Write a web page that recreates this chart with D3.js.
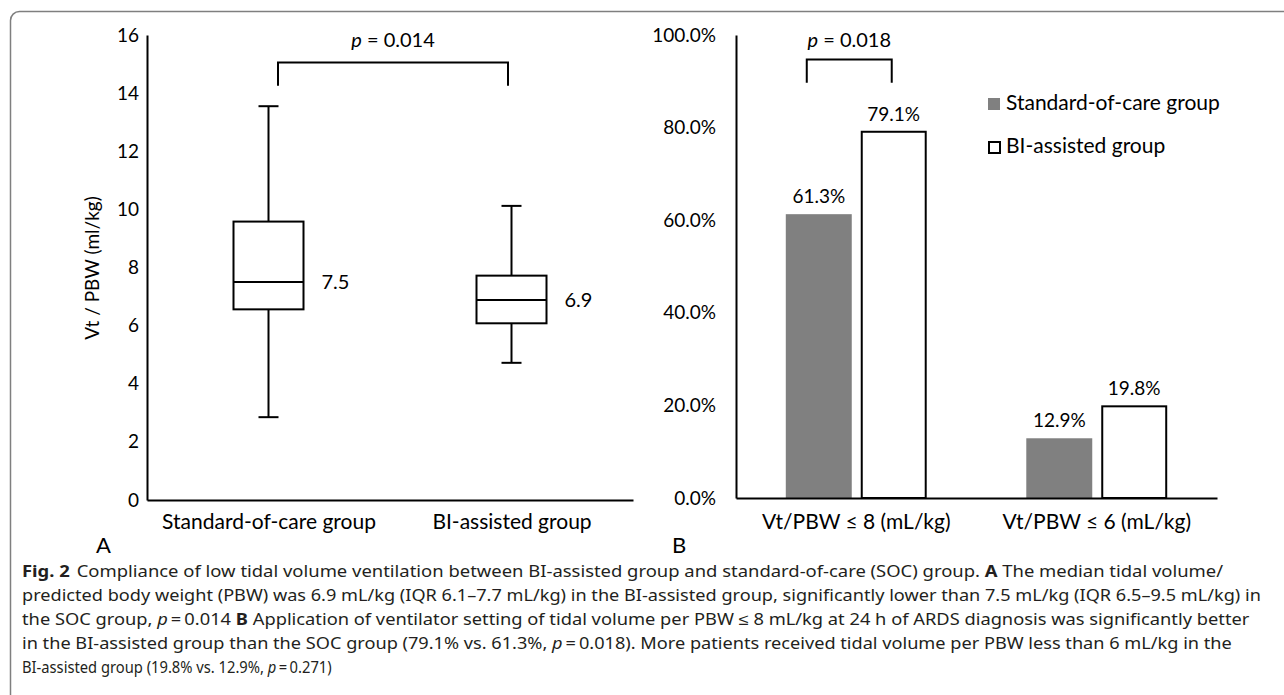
<!DOCTYPE html>
<html>
<head>
<meta charset="utf-8">
<script src="https://cdn.jsdelivr.net/npm/d3@7"></script>
<style>
  body { margin: 0; background: #fff; }
  svg { display: block; }
  .chart text { font-family: Lato, sans-serif; fill: #000; font-size: 19px; }
  .caption text { font-family: 'Noto Sans', sans-serif; fill: #231f20; font-size: 16px; }
</style>
</head>
<body>
<div id="chart"></div>
<script>
const SIZE = Object.freeze({ WIDTH: 1284, HEIGHT: 695 })

// panel A: box plot of Vt / PBW
const boxGroups = ['Standard-of-care group', 'BI-assisted group']
const boxMin = [2.85, 4.72]
const boxQ1 = [6.56, 6.08]
const boxMedian = [7.5, 6.88]
const boxQ3 = [9.58, 7.72]
const boxMax = [13.55, 10.12]
const boxMedianLabels = ['7.5', '6.9']
const boxTicks = [0, 2, 4, 6, 8, 10, 12, 14, 16]

// panel B: grouped bars
const barCategories = ['Vt/PBW ≤ 8 (mL/kg)', 'Vt/PBW ≤ 6 (mL/kg)']
const barSeries = ['Standard-of-care group', 'BI-assisted group']
const socValues = [61.3, 12.9]
const biValues = [79.1, 19.8]
const barTicks = [0, 20, 40, 60, 80, 100]

const pValues = ['0.014', '0.018']

const captionLines = [
  [['b', 'Fig. 2'], ['', 'Compliance of low tidal volume ventilation between BI-assisted group and standard-of-care (SOC) group. ', 6], ['b', 'A'], ['', ' The median tidal volume/']],
  [['', 'predicted body weight (PBW) was 6.9 mL/kg (IQR 6.1–7.7 mL/kg) in the BI-assisted group, significantly lower than 7.5 mL/kg (IQR 6.5–9.5 mL/kg) in']],
  [['', 'the SOC group, '], ['i', 'p'], ['', '\u2009=\u20090.014 '], ['b', 'B'], ['', ' Application of ventilator setting of tidal volume per PBW ≤ 8 mL/kg at 24 h of ARDS diagnosis was significantly better']],
  [['', 'in the BI-assisted group than the SOC group (79.1% vs. 61.3%, '], ['i', 'p'], ['', '\u2009=\u20090.018). More patients received tidal volume per PBW less than 6 mL/kg in the']],
  [['', 'BI-assisted group (19.8% vs. 12.9%, '], ['i', 'p'], ['', '\u2009=\u20090.271)']]
]
const captionWidths = [1195, 1240, 1228, 1210, 310]

const styleAxis = (g) => {
  g.attr('font-family', null).attr('font-size', null)
  g.select('.domain').attr('stroke', '#000').attr('stroke-width', 2)
}

const addPLabel = (g, x, y, value) => {
  const t = g.append('text')
    .attr('x', x)
    .attr('y', y)
    .attr('text-anchor', 'middle')
    .style('font-size', '20px')
  t.append('tspan').style('font-style', 'italic').text('p')
  t.append('tspan').text(` = ${value}`)
}

const buildBoxPanel = (svg) => {
  const g = svg.append('g')
  const y = d3.scaleLinear().domain([0, 16]).range([500, 35])
  const x = d3.scalePoint().domain(boxGroups).range([147, 633]).padding(0.5)
  const boxW = 70
  const capW = 20

  const rows = boxGroups.map((name, i) => ({
    name, min: boxMin[i], q1: boxQ1[i], med: boxMedian[i], q3: boxQ3[i], max: boxMax[i], label: boxMedianLabels[i]
  }))

  const box = g.selectAll('g.box')
    .data(rows)
    .enter()
    .append('g')
    .attr('class', 'box')
    .attr('stroke', '#000')
    .attr('stroke-width', 2)
    .attr('fill', 'none')

  box.append('line')
    .attr('x1', d => x(d.name)).attr('x2', d => x(d.name))
    .attr('y1', d => y(d.max)).attr('y2', d => y(d.q3))
  box.append('line')
    .attr('x1', d => x(d.name)).attr('x2', d => x(d.name))
    .attr('y1', d => y(d.q1)).attr('y2', d => y(d.min))
  box.append('line')
    .attr('x1', d => x(d.name) - capW / 2).attr('x2', d => x(d.name) + capW / 2)
    .attr('y1', d => y(d.max)).attr('y2', d => y(d.max))
  box.append('line')
    .attr('x1', d => x(d.name) - capW / 2).attr('x2', d => x(d.name) + capW / 2)
    .attr('y1', d => y(d.min)).attr('y2', d => y(d.min))
  box.append('rect')
    .attr('x', d => x(d.name) - boxW / 2)
    .attr('width', boxW)
    .attr('y', d => y(d.q3))
    .attr('height', d => y(d.q1) - y(d.q3))
    .attr('fill', '#fff')
  box.append('line')
    .attr('x1', d => x(d.name) - boxW / 2).attr('x2', d => x(d.name) + boxW / 2)
    .attr('y1', d => y(d.med)).attr('y2', d => y(d.med))

  g.selectAll('text.med')
    .data(rows)
    .enter()
    .append('text')
    .attr('class', 'med')
    .attr('x', d => x(d.name) + boxW / 2 + 18)
    .attr('y', d => y(d.med))
    .attr('dy', '0.35em')
    .style('font-size', '20px')
    .text(d => d.label)

  g.append('g')
    .attr('transform', 'translate(147,0)')
    .call(d3.axisLeft(y).tickValues(boxTicks).tickSize(0).tickSizeOuter(0).tickPadding(8))
    .call(styleAxis)

  g.append('g')
    .attr('transform', 'translate(0,500)')
    .call(d3.axisBottom(x).tickSize(0).tickSizeOuter(0).tickPadding(14))
    .call(styleAxis)
    .selectAll('text').style('font-size', '21px')

  g.append('text')
    .attr('transform', 'translate(99,268) rotate(-90)')
    .attr('text-anchor', 'middle')
    .text('Vt / PBW (ml/kg)')

  const bx0 = x(boxGroups[0]) + 9.5
  const bx1 = x(boxGroups[1]) - 3.5
  g.append('path')
    .attr('d', `M${bx0},${y(14.25)}V${y(15.05)}H${bx1}V${y(14.25)}`)
    .attr('fill', 'none')
    .attr('stroke', '#000')
    .attr('stroke-width', 2)
  addPLabel(g, (bx0 + bx1) / 2, 47, pValues[0])

  g.append('text')
    .attr('x', 96)
    .attr('y', 553)
    .style('font-size', '22px')
    .text('A')
}

const buildBarPanel = (svg) => {
  const g = svg.append('g')
  const y = d3.scaleLinear().domain([0, 100]).range([498, 35])
  const x0 = d3.scaleBand().domain(barCategories).range([736, 1217]).paddingInner(0.414).paddingOuter(0.207)
  const x1 = d3.scaleBand().domain(barSeries).range([0, x0.bandwidth()]).paddingInner(0.12)
  const fills = ['#808080', '#fff']

  const rows = []
  barCategories.forEach((cat, i) => {
    rows.push({ cat, series: barSeries[0], value: socValues[i], s: 0 })
    rows.push({ cat, series: barSeries[1], value: biValues[i], s: 1 })
  })

  g.selectAll('rect.bar')
    .data(rows)
    .enter()
    .append('rect')
    .attr('class', 'bar')
    .attr('x', d => x0(d.cat) + x1(d.series) + d.s)
    .attr('width', d => x1.bandwidth() - 2 * d.s)
    .attr('y', d => y(d.value))
    .attr('height', d => y(0) - y(d.value))
    .attr('fill', d => fills[d.s])
    .attr('stroke', d => d.s ? '#000' : 'none')
    .attr('stroke-width', 2)

  g.selectAll('text.val')
    .data(rows)
    .enter()
    .append('text')
    .attr('class', 'val')
    .attr('x', d => x0(d.cat) + x1(d.series) + x1.bandwidth() / 2)
    .attr('y', d => y(d.value) - 11)
    .attr('text-anchor', 'middle')
    .style('font-size', '19px')
    .text(d => d.value.toFixed(1) + '%')

  g.append('g')
    .attr('transform', 'translate(736,0)')
    .call(d3.axisLeft(y).tickValues(barTicks).tickFormat(d => d.toFixed(1) + '%').tickSize(0).tickSizeOuter(0).tickPadding(20))
    .call(styleAxis)

  g.append('g')
    .attr('transform', 'translate(0,498)')
    .call(d3.axisBottom(x0).tickSize(0).tickSizeOuter(0).tickPadding(16))
    .call(styleAxis)
    .selectAll('text').style('font-size', '21px')

  const cx = s => x0(barCategories[0]) + x1(barSeries[s]) + x1.bandwidth() / 2
  const bx0 = cx(0) - 12
  const bx1 = cx(1) - 2
  g.append('path')
    .attr('d', `M${bx0},${y(89.7)}V${y(94.7)}H${bx1}V${y(89.7)}`)
    .attr('fill', 'none')
    .attr('stroke', '#000')
    .attr('stroke-width', 2)
  addPLabel(g, (bx0 + bx1) / 2, 47, pValues[1])

  const legend = g.selectAll('g.legend')
    .data(barSeries)
    .enter()
    .append('g')
    .attr('class', 'legend')
    .attr('transform', (d, i) => `translate(988,${98 + i * 43})`)
  legend.append('rect')
    .attr('x', (d, i) => i)
    .attr('y', (d, i) => i)
    .attr('width', (d, i) => 12 - i)
    .attr('height', (d, i) => 12 - i)
    .attr('fill', (d, i) => fills[i])
    .attr('stroke', (d, i) => i ? '#000' : 'none')
    .attr('stroke-width', 2)
  legend.append('text')
    .attr('x', 18)
    .attr('y', 12)
    .style('font-size', '21px')
    .text(d => d)

  g.append('text')
    .attr('x', 672)
    .attr('y', 553)
    .style('font-size', '22px')
    .text('B')
}

// caption: each line squeezed or stretched horizontally to the width it has in the figure
const buildCaption = (svg) => {
  const g = svg.append('g').attr('class', 'caption')
  captionLines.forEach((line, i) => {
    const t = g.append('text')
    line.forEach(([kind, str, dx]) => {
      const span = t.append('tspan').text(str)
      if (dx) span.attr('dx', dx)
      if (kind === 'b') span.style('font-weight', 'bold')
      if (kind === 'i') span.style('font-style', 'italic')
    })
    const natural = t.node().getComputedTextLength()
    t.attr('transform', `translate(22,${577 + i * 24}) scale(${captionWidths[i] / natural},1)`)
  })
}

const buildChart = () => {
  const svg = d3.select('#chart')
    .append('svg')
    .attr('class', 'chart')
    .attr('width', SIZE.WIDTH)
    .attr('height', SIZE.HEIGHT)

  svg.append('rect')
    .attr('x', 10.5)
    .attr('y', 11.5)
    .attr('width', 1400)
    .attr('height', 800)
    .attr('rx', 9)
    .attr('fill', 'none')
    .attr('stroke', '#7f7f7f')
    .attr('stroke-width', 1.5)

  buildBoxPanel(svg)
  buildBarPanel(svg)
  buildCaption(svg)
}

document.addEventListener('DOMContentLoaded', buildChart)
</script>
</body>
</html>
